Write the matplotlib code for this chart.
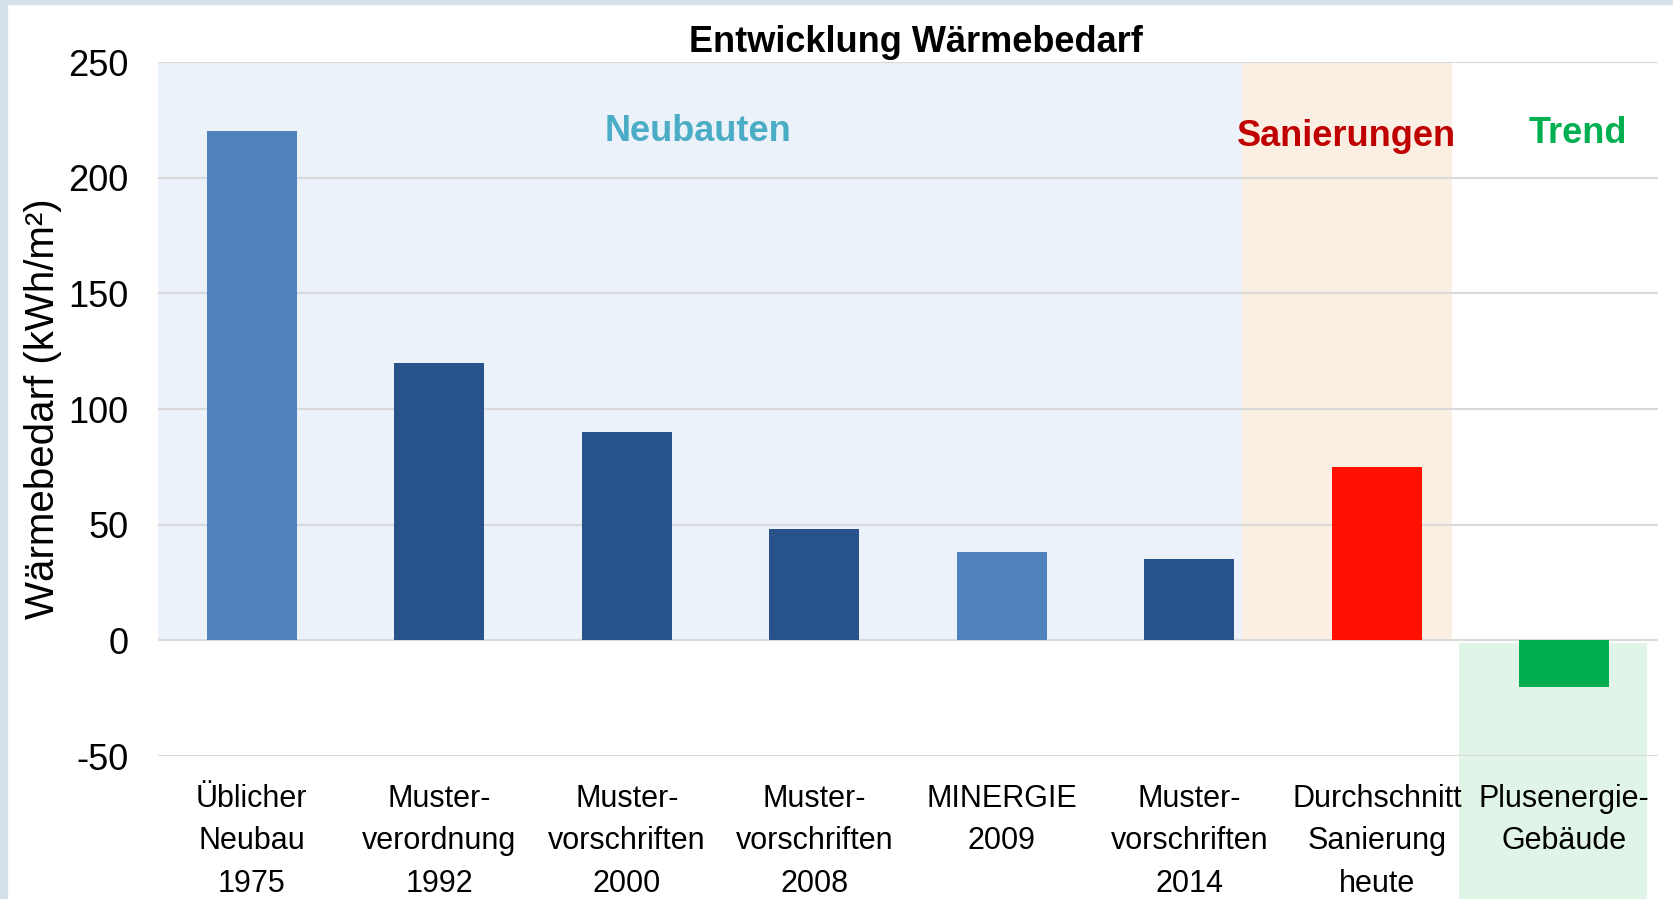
import matplotlib.pyplot as plt
from matplotlib.patches import Rectangle

plt.rcParams["font.family"] = ["Liberation Sans", "DejaVu Sans"]
plt.rcParams["axes.unicode_minus"] = False

# chart data
categories = [
    "Üblicher\nNeubau\n1975",
    "Muster-\nverordnung\n1992",
    "Muster-\nvorschriften\n2000",
    "Muster-\nvorschriften\n2008",
    "MINERGIE\n2009",
    "Muster-\nvorschriften\n2014",
    "Durchschnitt\nSanierung\nheute",
    "Plusenergie-\nGebäude",
]
values = [220, 120, 90, 48, 38, 35, 75, -20]
y_ticks = [-50, 0, 50, 100, 150, 200, 250]

title = "Entwicklung Wärmebedarf"
y_label = "Wärmebedarf (kWh/m²)"
sections = ["Neubauten", "Sanierungen", "Trend"]

# styles
bar_colors = ["#4F81BD", "#27528A", "#27528A", "#27528A",
              "#4F81BD", "#27528A", "#FF1000", "#00AC4F"]
section_colors = ["#4BACC6", "#C00000", "#00B050"]
section_pos = [(2.38, 220), (5.84, 218), (7.07, 219)]

fig = plt.figure(figsize=(16.74, 8.99), dpi=100)
fig.patch.set_facecolor("white")
ax = fig.add_axes([0.0944, 0.159, 0.8961, 0.772])

x = list(range(len(values)))

# background regions
ax.add_patch(Rectangle((-0.5, 0), 5.78, 250, color="#EBF2FA", zorder=0, lw=0))
ax.add_patch(Rectangle((5.28, 0), 1.12, 250, color="#FBEEE2", zorder=0, lw=0))
ax.add_patch(Rectangle((6.44, -120), 1.0, 119, color="#E1F4E8", zorder=0,
                       lw=0, clip_on=False))

ax.bar(x, values, width=0.48, color=bar_colors, zorder=2)

ax.set_xlim(-0.5, 7.5)
ax.set_ylim(-50, 250)
ax.set_yticks(y_ticks)
ax.set_xticks(x, categories)
ax.set_facecolor("none")

ax.grid(axis="y", color="#D9D9D9", linewidth=1.5, zorder=0.5)
ax.set_axisbelow(True)
for s in ax.spines.values():
    s.set_visible(False)

ax.tick_params(axis="y", length=0, pad=21, labelsize=26)
ax.tick_params(axis="x", length=0, pad=20, labelsize=22)
for t in ax.get_xticklabels():
    t.set_linespacing(1.55)
    t.set_verticalalignment("top")

for name, col, (sx, sy) in zip(sections, section_colors, section_pos):
    ax.text(sx, sy, name, color=col, fontsize=26, fontweight="bold",
            ha="center", va="center")

fig.text(916 / 1674, 1 - 42 / 899, title, fontsize=26, fontweight="bold",
         ha="center", va="center")
fig.text(43 / 1674, 1 - 409 / 899, y_label, fontsize=29, rotation=90,
         ha="center", va="center")

# outer frame strips
fig.patches.append(Rectangle((0, 0), 7 / 1674, 1, transform=fig.transFigure,
                             color="#D5E1E8", zorder=5))
fig.patches.append(Rectangle((0, 1 - 4 / 899), 1, 4 / 899,
                             transform=fig.transFigure, color="#D5E1E8",
                             zorder=5))

fig.savefig("out.png", dpi=100)
